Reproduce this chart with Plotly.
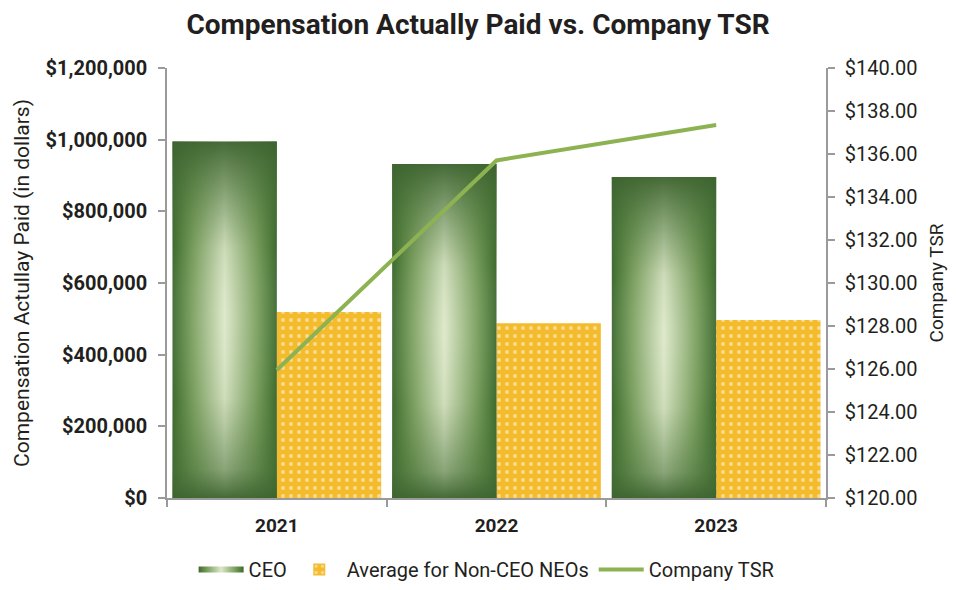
import plotly.graph_objects as go

years = ["2021", "2022", "2023"]
ceo_cap = [995000, 932000, 896000]
neo_cap = [519000, 488000, 497000]
company_tsr = [125.95, 135.7, 137.35]

left_ticks = [0, 200000, 400000, 600000, 800000, 1000000, 1200000]
right_ticks = [120, 122, 124, 126, 128, 130, 132, 134, 136, 138, 140]

FONT = "Roboto, sans-serif"
pos = list(range(len(years)))
w = 0.475

H_SCALE = [[0, "#3d682f"], [0.06, "#4f7c3c"], [0.2, "#7ea262"], [0.5, "#dde8c9"],
           [0.8, "#7ea262"], [0.94, "#4f7c3c"], [1, "#3d682f"]]
V_SCALE = [[0, "rgba(62,100,48,0.95)"], [0.08, "rgba(70,110,55,0.55)"], [0.28, "rgba(80,120,60,0.1)"],
           [0.5, "rgba(255,255,255,0.05)"], [0.7, "rgba(80,120,60,0.12)"],
           [0.87, "rgba(70,110,55,0.6)"], [1, "rgba(62,100,48,0.95)"]]

fig = go.Figure()
for i, (p, v) in enumerate(zip(pos, ceo_cap)):
    xs = [p - w, p, p, p - w, p - w]
    ys = [0, 0, v, v, 0]
    fig.add_trace(go.Scatter(x=xs, y=ys, fill="toself", mode="none",
                             fillgradient=dict(type="horizontal", colorscale=H_SCALE),
                             name="CEO", legendgroup="ceo", showlegend=(i == 0), hoverinfo="skip"))
    fig.add_trace(go.Scatter(x=xs, y=ys, fill="toself", mode="none",
                             fillgradient=dict(type="vertical", colorscale=V_SCALE),
                             name="CEO", legendgroup="ceo", showlegend=False, hoverinfo="skip"))

fig.add_trace(go.Bar(x=pos, y=neo_cap, width=w, offset=0, name="Average for Non-CEO NEOs",
                     marker=dict(color="#F4BB2C", line=dict(width=0),
                                 pattern=dict(shape=".", fgcolor="rgba(255,255,255,0.95)", size=8,
                                              solidity=0.2, fillmode="overlay"))))

fig.add_trace(go.Scatter(x=pos, y=company_tsr, yaxis="y2", mode="lines", name="Company TSR",
                         line=dict(color="#8db252", width=4)))

# page body has an 8px default margin, so the figure is 940x574 and offsets are relative to it
fig.update_layout(
    width=940, height=574,
    margin=dict(l=159, r=122, t=60, b=84, autoexpand=False),
    paper_bgcolor="white", plot_bgcolor="white",
    font=dict(family=FONT, size=17, color="#231f20"),
    title=dict(text="<b>Compensation Actually Paid vs. Company TSR</b>", x=0.5, xanchor="center",
               y=1 - 16 / 574, yanchor="middle", font=dict(size=28, family=FONT, color="#231f20")),
    showlegend=True,
    legend=dict(orientation="h", x=0.485, xanchor="center", y=-0.166, yanchor="middle",
                font=dict(size=20, family=FONT), itemwidth=45, tracegroupgap=0),
    xaxis=dict(range=[-0.5, 2.5], tickmode="array", tickvals=pos, ticktext=["<b>%s</b>" % y for y in years],
               showline=True, linecolor="#9a9a9a", linewidth=1.5, showgrid=False, zeroline=False,
               ticks="", ticklabelstandoff=9, tickfont=dict(size=19), automargin=False,
               minor=dict(tickmode="array", tickvals=[-0.5, 0.5, 1.5, 2.5], ticks="outside",
                          ticklen=7, tickcolor="#9a9a9a", tickwidth=1.5, showgrid=False)),
    yaxis=dict(range=[0, 1200000], tickmode="array", tickvals=left_ticks,
               ticktext=["<b>$%s</b>" % format(t, ",") for t in left_ticks],
               showline=True, linecolor="#9a9a9a", linewidth=1.5, ticks="outside", ticklen=7,
               tickcolor="#9a9a9a", tickwidth=1.5, showgrid=False, zeroline=False,
               tickfont=dict(size=20), automargin=False, ticklabelstandoff=7,
               title=dict(text="Compensation Actullay Paid (in dollars)", font=dict(size=21), standoff=10)),
    yaxis2=dict(range=[120, 140], overlaying="y", side="right", tickmode="array", tickvals=right_ticks,
                ticktext=["$%.2f" % t for t in right_ticks],
                showline=True, linecolor="#9a9a9a", linewidth=1.5, ticks="outside", ticklen=7,
                tickcolor="#9a9a9a", tickwidth=1.5, showgrid=False, zeroline=False,
                tickfont=dict(size=20), automargin=False, ticklabelstandoff=6,
                title=dict(text="Company TSR", font=dict(size=19), standoff=23)),
)

fig.write_html("out.html")
